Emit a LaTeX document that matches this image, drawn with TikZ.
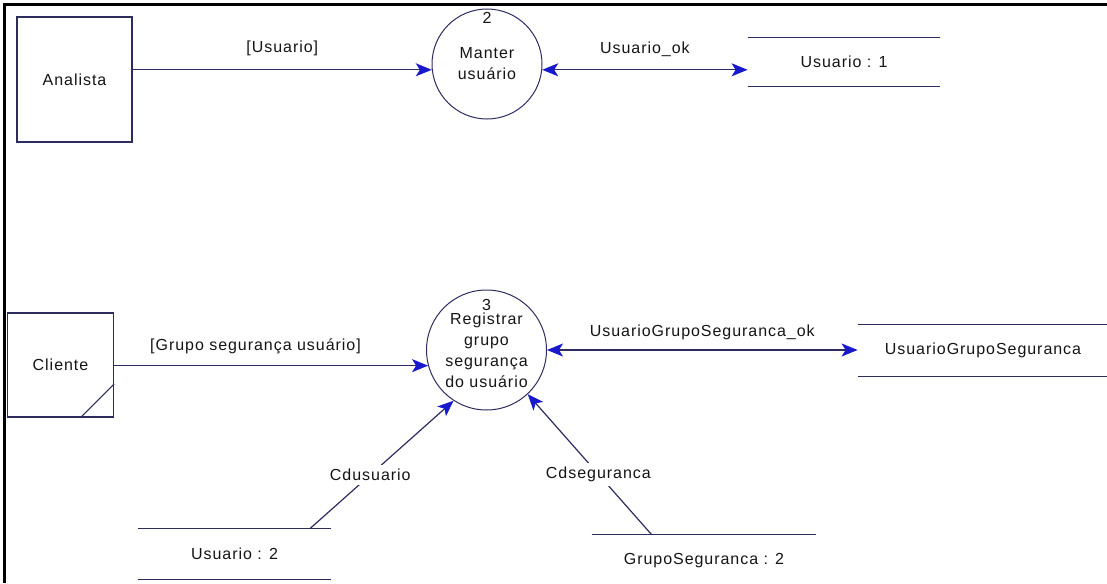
\documentclass[tikz,border=0pt]{standalone}
\usepackage{fontspec}
\setmainfont{Liberation Sans}[LetterSpace=6]
\usepackage{tikz}
\usetikzlibrary{positioning,arrows.meta}
\definecolor{ink}{RGB}{20,20,20}
\definecolor{dfdline}{RGB}{44,44,96}
\definecolor{tipblue}{RGB}{24,24,205}
\definecolor{shotedge}{RGB}{0,0,0}
\newcommand{\dfdsize}{\fontsize{8pt}{10.5pt}\selectfont}
\tikzset{
  ent/.style={draw=dfdline, fill=white, line width=0.8pt, align=center,
    inner sep=0pt, font=\dfdsize, text=ink},
  proc/.style={circle, draw=dfdline, line width=0.5pt, align=center,
    inner sep=0pt, font=\dfdsize, text=ink},
  pnum/.style={inner sep=1pt, font=\dfdsize, text=ink},
  store/.style={inner sep=0pt, font=\dfdsize, text=ink,
    append after command={\pgfextra{\draw[dfdline, line width=0.8pt]
      (\tikzlastnode.north west) -- (\tikzlastnode.north east)
      (\tikzlastnode.south west) -- (\tikzlastnode.south east);}}},
  tip/.tip={Stealth[length=8pt, width=6.5pt, inset=2pt, color=tipblue]},
  flow/.style={-tip, line width=0.6pt, draw=dfdline},
  flow2/.style={tip-tip, line width=0.6pt, draw=dfdline},
  lbl/.style={inner sep=1pt, font=\dfdsize, text=ink},
  cutlbl/.style={lbl, fill=white, inner sep=2pt},
  boxline/.style={draw=dfdline, line width=0.5pt},
  edgeframe/.style={draw=shotedge, line width=1.5pt},
}

\begin{document}
\begin{tikzpicture}[x=0.5pt, y=-0.5pt]
  \useasboundingbox (0,0) rectangle (1107,583);
  \draw[edgeframe] (4,583) -- (4,5) -- (1107,5);
  \node[ent, minimum width=57.5pt, minimum height=62.5pt] (analista) at (74.5,79.5) {Analista};
  \node[proc, minimum size=55pt] (manter) at (487,64) {Manter\\usuário};
  \node[pnum, below=0.5pt of manter.north] (manternum) {2};
  \node[store, minimum width=96pt, minimum height=24pt] (usu1) at (844,62) {Usuario : 1};
  \node[ent, minimum width=53pt, minimum height=52pt] (cliente) at (60.5,365) {Cliente};
  \draw[boxline] ([yshift=17pt]cliente.south east) -- ([xshift=-17pt]cliente.south east);
  \node[proc, minimum size=60pt] (registrar) at (486.5,350) {Registrar\\grupo\\segurança\\do usuário};
  \node[pnum, below=3.5pt of registrar.north] (registrarnum) {3};
  \node[store, minimum width=125pt, minimum height=25.5pt] (ugs) at (983,350.5) {UsuarioGrupoSeguranca};
  \node[store, minimum width=96.5pt, minimum height=25pt] (usu2) at (234.5,554) {Usuario : 2};
  \node[store, minimum width=112pt, minimum height=25.5pt] (gs2) at (704,560.5) {GrupoSeguranca : 2};
  \draw[flow] (analista.east |- manter.186) -- (manter.186)
    node[lbl, midway, above=5.5pt] {[Usuario]};
  \draw[flow2] (manter.354) -- (manter.354 -| usu1.west)
    node[lbl, midway, above=5.5pt] {Usuario\_ok};
  \draw[flow] (registrar.195 -| cliente.east) -- (registrar.195)
    node[lbl, pos=0.45, above=4.5pt] {[Grupo segurança usuário]};
  \draw[flow2] (registrar.east) -- (registrar.east -| ugs.west)
    node[lbl, midway, above=4pt] {UsuarioGrupoSeguranca\_ok};
  \draw[flow] ([xshift=37.75pt]usu2.north) -- (registrar.237)
    node[cutlbl, pos=0.42] {Cdusuario};
  \draw[flow] ([xshift=30pt]gs2.north west) -- (registrar.313)
    node[cutlbl, pos=0.43] {Cdseguranca};
\end{tikzpicture}
\end{document}
